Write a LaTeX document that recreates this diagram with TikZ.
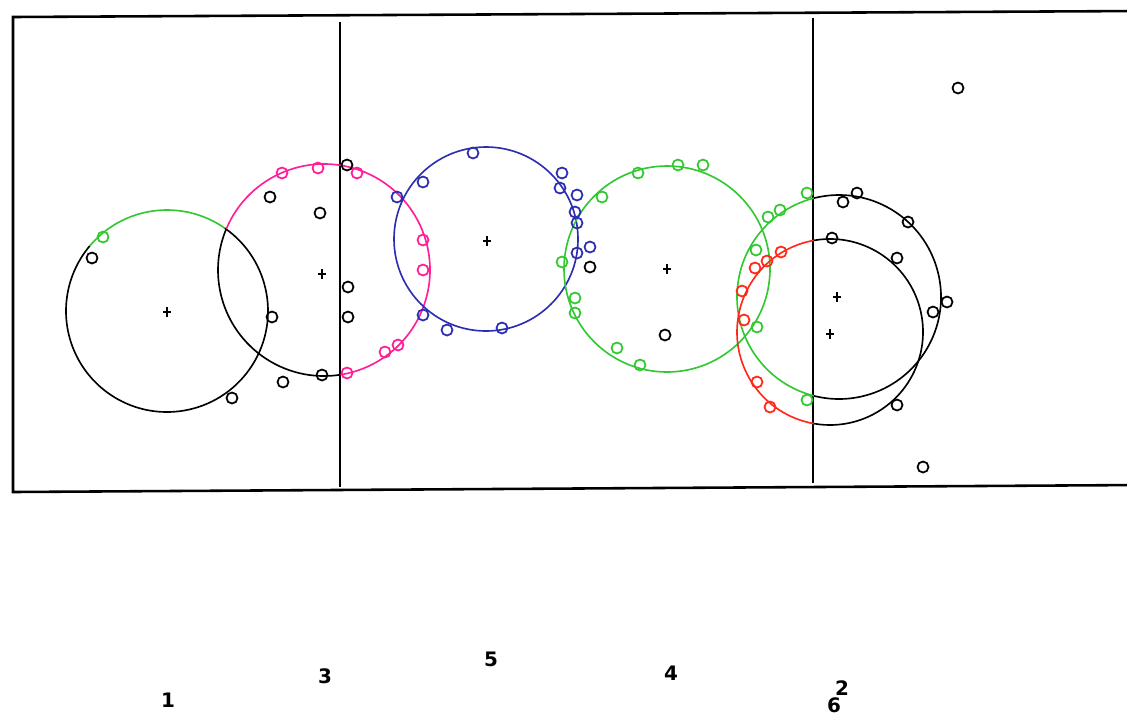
\documentclass[tikz,border=0pt]{standalone}
\usepackage{fontspec}
\usepackage{tikz}
\newfontfamily\lblfont{DejaVu Sans}
\definecolor{ptgreen}{RGB}{50,200,50}
\definecolor{ptpink}{RGB}{255,30,150}
\definecolor{ptblue}{RGB}{45,45,175}
\definecolor{ptred}{RGB}{255,40,25}
\tikzset{
  ring/.style={line width=1.4pt},
  mk/.style={line width=1.5pt},
  lbl/.style={font=\lblfont\bfseries\fontsize{17}{17}\selectfont, inner sep=0pt}
}

\begin{document}
\begin{tikzpicture}[x=0.03cm,y=-0.03cm]
\useasboundingbox (0,0) rectangle (1127,716);
% frame and dividers
\draw[line width=2.2pt] (1140,11)--(13,17)--(13,492)--(1140,485);
\draw[line width=2.2pt] (340,22)--(340,487);
\draw[line width=2.2pt] (813,18)--(813,483);
% circles
\draw[ring,ptgreen] (167,311) ++(220:101) arc[start angle=220,end angle=305,radius=101];
\draw[ring] (167,311) ++(305:101) arc[start angle=305,end angle=580,radius=101];
\draw[ring] (324,270) ++(81:106) arc[start angle=81,end angle=203,radius=106];
\draw[ring,ptpink] (324,270) ++(203:106) arc[start angle=203,end angle=441,radius=106];
\draw[ring,ptblue] (486,239) circle[radius=92];
\draw[ring,ptgreen] (667,269) circle[radius=103];
\draw[ring,ptgreen] (839,297) ++(104.2:102) arc[start angle=104.2,end angle=255.8,radius=102];
\draw[ring] (839,297) ++(-104.2:102) arc[start angle=-104.2,end angle=104.2,radius=102];
\draw[ring,ptred] (830,332) ++(99.9:93) arc[start angle=99.9,end angle=260.1,radius=93];
\draw[ring] (830,332) ++(-99.9:93) arc[start angle=-99.9,end angle=99.9,radius=93];
% points
\foreach \px/\py in {103/237,562/262,575/298,575/313,602/197,638/173,678/165,703/165,617/348,640/365,
  807/193,780/210,768/217,756/250,757/327,807/400}
  \draw[mk,ptgreen] (\px,\py) circle[radius=5.5];
\foreach \px/\py in {282/173,318/168,357/173,423/240,423/270,398/345,385/352,347/373}
  \draw[mk,ptpink] (\px,\py) circle[radius=5.5];
\foreach \px/\py in {473/153,423/182,397/197,562/173,560/188,577/195,575/212,577/223,577/253,590/247,423/315,447/330,502/328}
  \draw[mk,ptblue] (\px,\py) circle[radius=5.5];
\foreach \px/\py in {781/252,767/261,755/268,742/291,744/320,757/382,770/407}
  \draw[mk,ptred] (\px,\py) circle[radius=5.5];
\foreach \px/\py in {92/258,272/317,232/398,347/165,270/197,320/213,348/287,348/317,322/375,283/382,590/267,665/335,
  958/88,843/202,857/193,908/222,832/238,897/258,947/302,933/312,897/405,923/467}
  \draw[mk] (\px,\py) circle[radius=5.5];
% centres
\foreach \cx/\cy in {167/312,322/274,487/241,667/269,837/297,830/334}
  \draw[line width=1.6pt] ({\cx-4},\cy)--({\cx+4},\cy) (\cx,{\cy-5})--(\cx,{\cy+5});
% cluster numbers
\node[lbl] (n1) at (168,700) {1};
\node[lbl] (n3) at (325,676) {3};
\node[lbl] (n5) at (491,659) {5};
\node[lbl] (n4) at (671,673) {4};
\node[lbl] (n2) at (842,688) {2};
\node[lbl] (n6) at (834,705) {6};
\end{tikzpicture}
\end{document}
